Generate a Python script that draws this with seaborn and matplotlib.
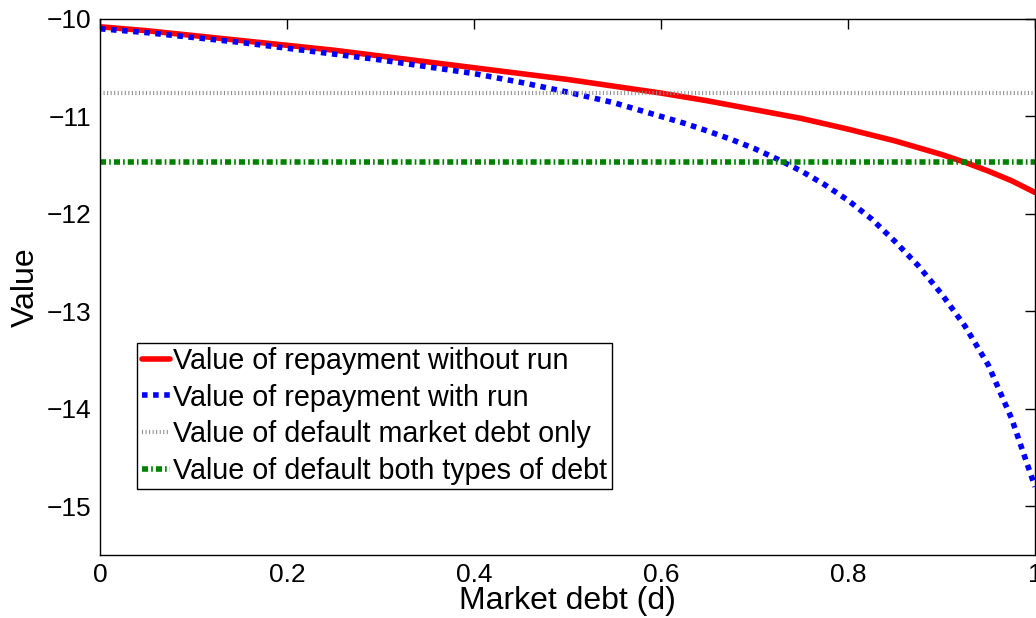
import numpy as np
import pandas as pd
import matplotlib
matplotlib.use('Agg')
import matplotlib.pyplot as plt
import seaborn as sns

# Dados
market_debt = [0.0, 0.05, 0.1, 0.15, 0.2, 0.25, 0.3, 0.35, 0.4, 0.45, 0.5,
               0.55, 0.6, 0.625, 0.65, 0.675, 0.7, 0.725, 0.75, 0.775, 0.8,
               0.825, 0.85, 0.875, 0.9, 0.925, 0.95, 0.975, 1.0]
repay_no_run = [-10.08, -10.12, -10.17, -10.22, -10.27, -10.32, -10.38, -10.44,
                -10.50, -10.56, -10.62, -10.69, -10.76, -10.80, -10.84, -10.885,
                -10.93, -10.975, -11.02, -11.075, -11.13, -11.19, -11.25, -11.32,
                -11.39, -11.47, -11.56, -11.66, -11.78]
repay_run = [-10.10, -10.14, -10.19, -10.24, -10.30, -10.36, -10.42, -10.49,
             -10.56, -10.65, -10.75, -10.86, -11.00, -11.07, -11.15, -11.235,
             -11.33, -11.44, -11.56, -11.70, -11.86, -12.05, -12.28, -12.53,
             -12.82, -13.15, -13.55, -14.10, -14.80]
default_market_only = -10.76
default_both = -11.47

labels = ['Value of repayment without run',
          'Value of repayment with run',
          'Value of default market debt only',
          'Value of default both types of debt']

sns.set_style('white')
plt.rcParams['font.family'] = ['Liberation Sans', 'DejaVu Sans']
plt.rcParams['xtick.direction'] = 'in'
plt.rcParams['ytick.direction'] = 'in'
plt.rcParams['text.color'] = 'black'
plt.rcParams['axes.labelcolor'] = 'black'
plt.rcParams['xtick.color'] = 'black'
plt.rcParams['ytick.color'] = 'black'

fig = plt.figure(figsize=(10.36, 6.18), dpi=100)
ax = fig.add_axes([100 / 1036, 1 - 555 / 618, 935 / 1036, 536 / 618])

d = np.array(market_debt)
sns.lineplot(x=d, y=repay_no_run, ax=ax, color='red', lw=4,
             label=labels[0])
sns.lineplot(x=d, y=repay_run, ax=ax, color='blue', lw=4,
             linestyle=(0, (1, 1)), label=labels[1])
sns.lineplot(x=d, y=np.full_like(d, default_market_only), ax=ax,
             color='#8c8c8c', lw=3, linestyle=(0, (0.25, 0.6)),
             label=labels[2])
sns.lineplot(x=d, y=np.full_like(d, default_both), ax=ax, color='green',
             lw=4, linestyle=(0, (1.1, 0.55, 0.3, 0.55)), label=labels[3])

for l in ax.get_lines():
    l.set_dash_capstyle('butt')

ax.set_xlim(0, 1)
ax.set_ylim(-15.5, -10)
ax.set_xticks([0, 0.2, 0.4, 0.6, 0.8, 1])
ax.set_xticklabels(['0', '0.2', '0.4', '0.6', '0.8', '1'])
ax.set_yticks([-15, -14, -13, -12, -11, -10])
ax.set_yticklabels(['\u221215', '\u221214', '\u221213', '\u221212', '\u221211', '\u221210'])
ax.tick_params(axis='both', labelsize=19, length=7, width=1, color='black',
               labelcolor='black', top=True, right=True, pad=6)
for s in ax.spines.values():
    s.set_color('black')
    s.set_linewidth(1)

ax.set_xlabel('Market debt (d)', fontsize=23, color='black')
ax.xaxis.set_label_coords(0.5, -0.058)
ax.set_ylabel('Value', fontsize=23, color='black')
ax.yaxis.set_label_coords(-0.063, 0.5)

leg = ax.legend(loc='lower left', bbox_to_anchor=(0.04, 0.123),
                borderaxespad=0, fontsize=20.7, handlelength=1.0,
                handletextpad=0.1, labelspacing=0.3, borderpad=0.15,
                fancybox=False, framealpha=1, edgecolor='black')
leg.get_frame().set_linewidth(1)
for t in leg.get_texts():
    t.set_color('black')

fig.savefig('out.png', dpi=100)
